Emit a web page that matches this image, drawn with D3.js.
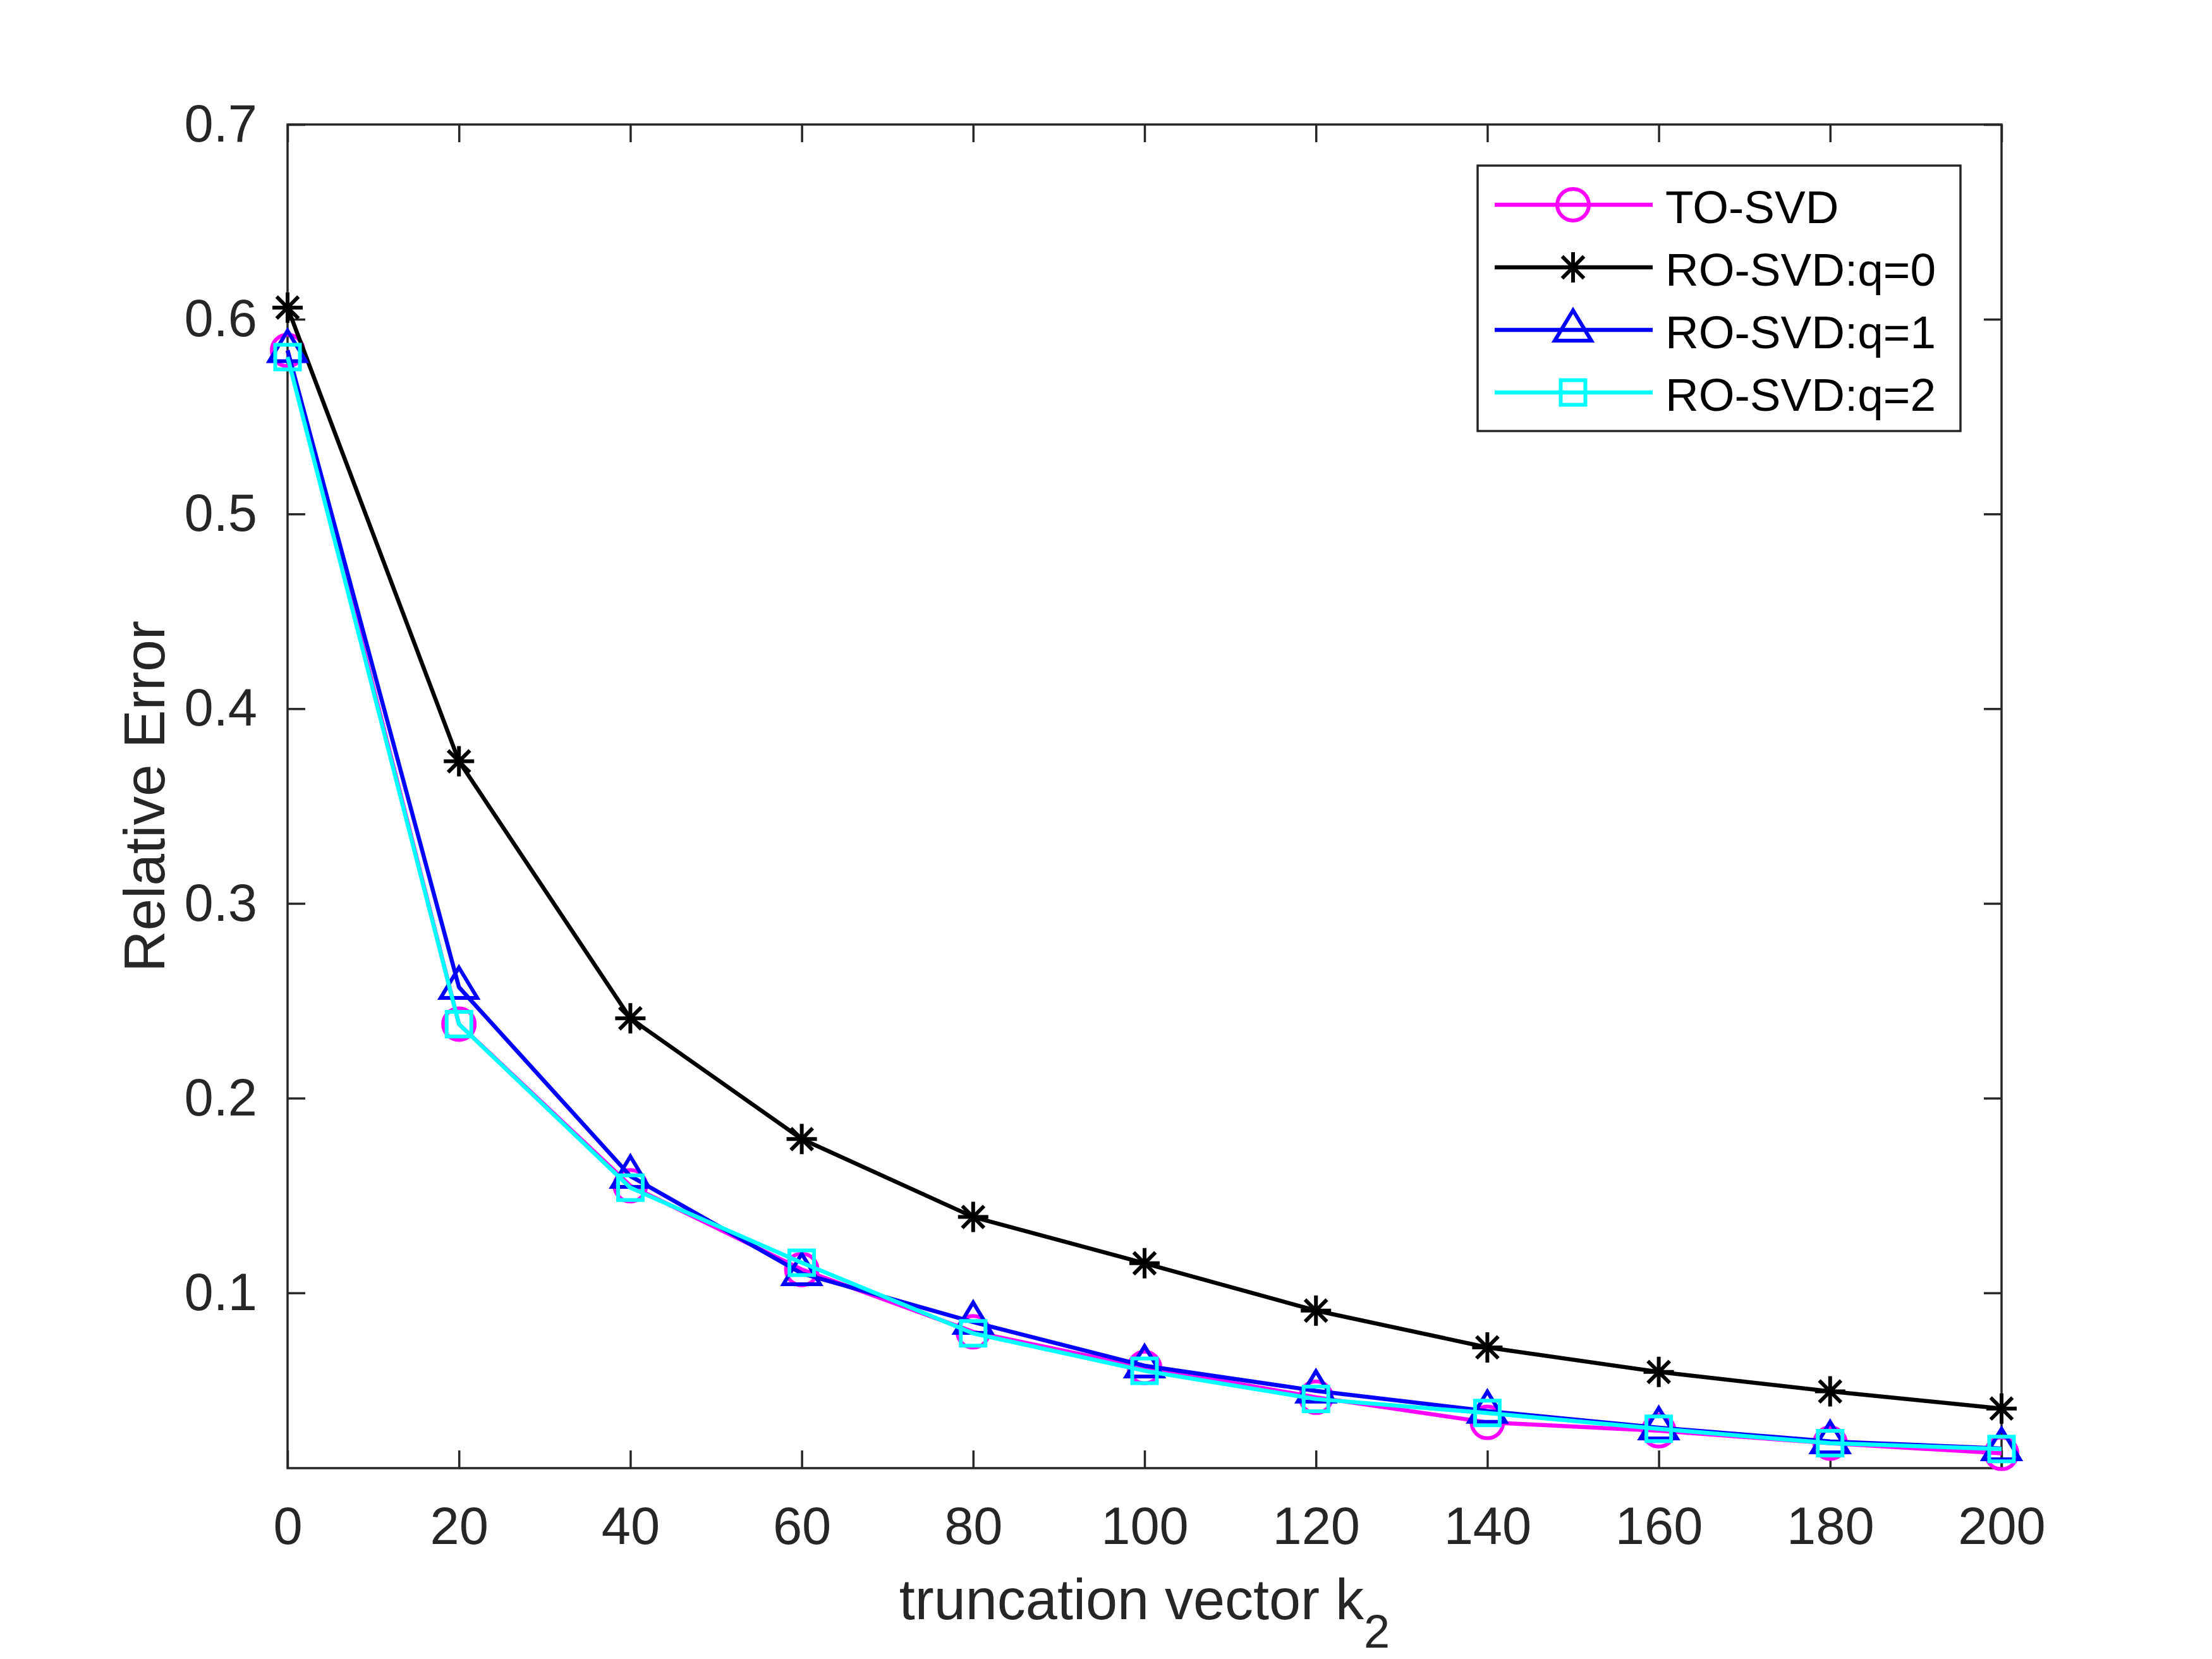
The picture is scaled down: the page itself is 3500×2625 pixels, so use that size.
<!DOCTYPE html>
<html>
<head>
<meta charset="utf-8">
<script src="https://cdn.jsdelivr.net/npm/d3@7"></script>
<style>
  html, body { margin: 0; padding: 0; background: #fff; }
  svg { display: block; font-family: "Liberation Sans", Arial, sans-serif; }
</style>
</head>
<body>
<div id="chart"></div>
<script>
// values
const kValues = [0, 20, 40, 60, 80, 100, 120, 140, 160, 180, 200];
const toSvd   = [0.584, 0.238, 0.155, 0.112, 0.080, 0.0617, 0.0464, 0.0335, 0.0292, 0.0228, 0.0176];
const roSvdQ0 = [0.606, 0.373, 0.241, 0.179, 0.139, 0.1152, 0.0909, 0.0720, 0.0594, 0.0494, 0.0406];
const roSvdQ1 = [0.584, 0.257, 0.160, 0.110, 0.085, 0.0626, 0.0497, 0.0393, 0.0308, 0.0237, 0.0201];
const roSvdQ2 = [0.5806, 0.238, 0.154, 0.1155, 0.0792, 0.0600, 0.0455, 0.0383, 0.0302, 0.0228, 0.0198];
const seriesNames = ['TO-SVD', 'RO-SVD:q=0', 'RO-SVD:q=1', 'RO-SVD:q=2'];
const xTicks = [0, 20, 40, 60, 80, 100, 120, 140, 160, 180, 200];
const yTicks = [0.1, 0.2, 0.3, 0.4, 0.5, 0.6, 0.7];
const xDomain = [0, 200];
const yDomain = [0.01, 0.7];
const xTitle = 'truncation vector k';
const xTitleSub = '2';
const yTitle = 'Relative Error';

const width = 3500;
const height = 2625;
const margin = {top: 197, right: 333, bottom: 302, left: 455};
const axisColor = '#262626';

// matlab-ish marker shapes, size is used as a radius
const markerShapes = {
  circle: {draw(ctx, r) { ctx.moveTo(r, 0); ctx.arc(0, 0, r, 0, 2 * Math.PI); }},
  asterisk: {draw(ctx, r) {
    let d = r * 0.72;
    ctx.moveTo(-r, 0); ctx.lineTo(r, 0);
    ctx.moveTo(0, -r); ctx.lineTo(0, r);
    ctx.moveTo(-d, -d); ctx.lineTo(d, d);
    ctx.moveTo(-d, d); ctx.lineTo(d, -d);
  }},
  triangle: {draw(ctx, r) {
    ctx.moveTo(0, -r * 1.07);
    ctx.lineTo(r, r * 0.59);
    ctx.lineTo(-r, r * 0.59);
    ctx.closePath();
  }},
  square: {draw(ctx, r) { ctx.rect(-r, -r, 2 * r, 2 * r); }}
};

const series = [
  {name: seriesNames[0], values: toSvd,   color: '#ff00ff', shape: 'circle',   size: 25},
  {name: seriesNames[1], values: roSvdQ0, color: '#000000', shape: 'asterisk', size: 24},
  {name: seriesNames[2], values: roSvdQ1, color: '#0000ff', shape: 'triangle', size: 29},
  {name: seriesNames[3], values: roSvdQ2, color: '#00ffff', shape: 'square',   size: 19.5}
];

const svg = d3.select('#chart')
  .append('svg')
  .attr('width', width)
  .attr('height', height)
  .attr('viewBox', `0 0 ${width} ${height}`);

svg.append('rect').attr('width', width).attr('height', height).attr('fill', '#fff');

const x = d3.scaleLinear().domain(xDomain).range([margin.left, width - margin.right]);
const y = d3.scaleLinear().domain(yDomain).range([height - margin.bottom, margin.top]);

function styleAxis(g) {
  g.select('.domain').remove();
  g.selectAll('.tick line').attr('stroke', axisColor).attr('stroke-width', 3.5);
  g.selectAll('.tick text')
    .attr('fill', axisColor)
    .attr('font-size', 83)
    .attr('font-family', '"Liberation Sans", Arial, sans-serif');
}

// axes, ticks pointing inward on all four sides
svg.append('g')
  .attr('transform', `translate(0,${height - margin.bottom})`)
  .call(d3.axisBottom(x).tickValues(xTicks).tickSizeInner(-28).tickSizeOuter(0).tickPadding(61))
  .call(styleAxis);

svg.append('g')
  .attr('transform', `translate(0,${margin.top})`)
  .call(d3.axisTop(x).tickValues(xTicks).tickSizeInner(-28).tickSizeOuter(0).tickFormat(''))
  .call(styleAxis);

svg.append('g')
  .attr('transform', `translate(${margin.left},0)`)
  .call(d3.axisLeft(y).tickValues(yTicks).tickSizeInner(-28).tickSizeOuter(0).tickPadding(48)
    .tickFormat(d3.format('.1f')))
  .call(styleAxis);

svg.append('g')
  .attr('transform', `translate(${width - margin.right},0)`)
  .call(d3.axisRight(y).tickValues(yTicks).tickSizeInner(-28).tickSizeOuter(0).tickFormat(''))
  .call(styleAxis);

svg.append('rect')
  .attr('x', x(xDomain[0]))
  .attr('y', y(yDomain[1]))
  .attr('width', x(xDomain[1]) - x(xDomain[0]))
  .attr('height', y(yDomain[0]) - y(yDomain[1]))
  .attr('fill', 'none')
  .attr('stroke', axisColor)
  .attr('stroke-width', 3.5);

// axis titles
const xt = svg.append('text')
  .attr('x', (x(xDomain[0]) + x(xDomain[1])) / 2)
  .attr('y', 2562)
  .attr('text-anchor', 'middle')
  .attr('font-size', 90)
  .attr('fill', axisColor)
  .text(xTitle);
xt.append('tspan').attr('font-size', 74).attr('dy', 45).text(xTitleSub);

svg.append('text')
  .attr('transform', `translate(260,${(y(yDomain[0]) + y(yDomain[1])) / 2}) rotate(-90)`)
  .attr('text-anchor', 'middle')
  .attr('font-size', 91)
  .attr('fill', axisColor)
  .text(yTitle);

// data lines + markers
const line = d3.line()
  .x((d, i) => x(kValues[i]))
  .y(d => y(d));

series.forEach(s => {
  let g = svg.append('g');
  g.append('path')
    .datum(s.values)
    .attr('d', line)
    .attr('fill', 'none')
    .attr('stroke', s.color)
    .attr('stroke-width', 6.5)
    .attr('stroke-linejoin', 'round');

  g.selectAll('path.marker')
    .data(s.values)
    .enter()
    .append('path')
    .attr('class', 'marker')
    .attr('transform', (d, i) => `translate(${x(kValues[i])},${y(d)})`)
    .attr('d', d3.symbol().type(markerShapes[s.shape]).size(s.size))
    .attr('fill', 'none')
    .attr('stroke', s.color)
    .attr('stroke-width', 6);
});

// legend
const legend = svg.append('g');
legend.append('rect')
  .attr('x', 2338).attr('y', 262)
  .attr('width', 764).attr('height', 420)
  .attr('fill', '#fff')
  .attr('stroke', axisColor)
  .attr('stroke-width', 3.5);

series.forEach((s, i) => {
  let rowY = 324 + i * 99;
  legend.append('line')
    .attr('x1', 2365).attr('x2', 2615)
    .attr('y1', rowY).attr('y2', rowY)
    .attr('stroke', s.color)
    .attr('stroke-width', 6.5);
  legend.append('path')
    .attr('transform', `translate(2489,${rowY})`)
    .attr('d', d3.symbol().type(markerShapes[s.shape]).size(s.size))
    .attr('fill', 'none')
    .attr('stroke', s.color)
    .attr('stroke-width', 6);
  legend.append('text')
    .attr('x', 2635)
    .attr('y', rowY + 29)
    .attr('font-size', 73)
    .attr('fill', '#000')
    .text(s.name);
});
</script>
</body>
</html>
